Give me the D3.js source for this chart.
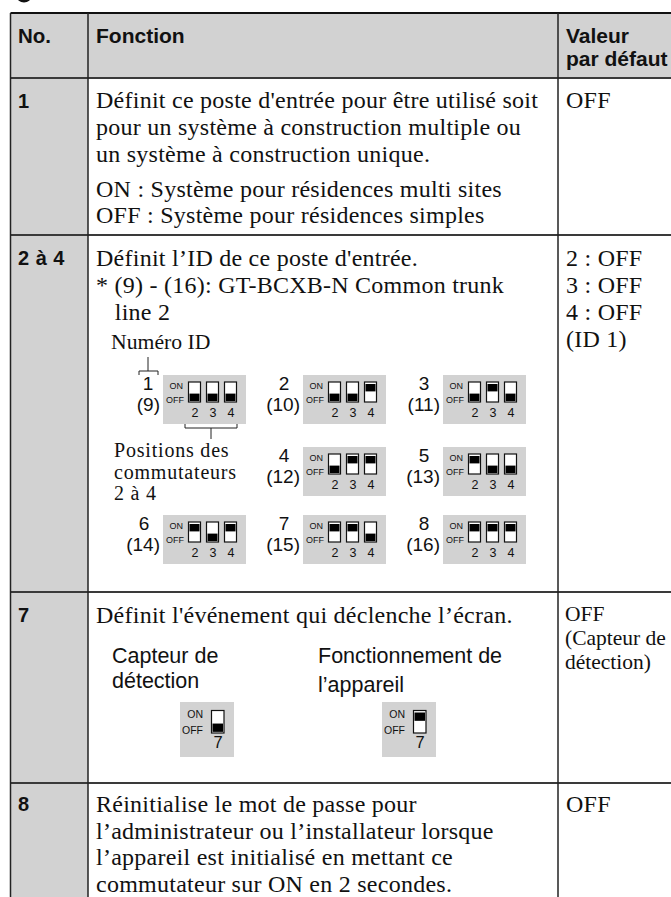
<!DOCTYPE html>
<html><head><meta charset="utf-8">
<script src="https://cdn.jsdelivr.net/npm/d3@7"></script>
<style>html,body{margin:0;padding:0;background:#fff;overflow:hidden}svg{display:block}
.serif{font-family:"Liberation Serif",serif;fill:#111}
.sans{font-family:"Liberation Sans",sans-serif;fill:#111}
.bold{font-weight:700}</style></head><body>
<script>
// ---- data ----
const headers = ["No.", "Fonction"];
const headerDefault = ["Valeur", "par défaut"];
const rowNumbers = ["1", "2 à 4", "7", "8"];
const rowDefaults = [["OFF"], ["2 : OFF", "3 : OFF", "4 : OFF", "(ID 1)"], ["OFF", "(Capteur de", "détection)"], ["OFF"]];
const rowTexts = [
 ["Définit ce poste d'entrée pour être utilisé soit", "pour un système à construction multiple ou", "un système à construction unique."],
 ["Définit l’ID de ce poste d'entrée.", "* (9) - (16): GT-BCXB-N Common trunk", "   line 2"],
 ["Définit l'événement qui déclenche l’écran."],
 ["Réinitialise le mot de passe pour", "l’administrateur ou l’installateur lorsque", "l’appareil est initialisé en mettant ce", "commutateur sur ON en 2 secondes."]
];
const onOffLines = ["ON : Système pour résidences multi sites", "OFF : Système pour résidences simples"];
const idLabels = ["1", "2", "3", "4", "5", "6", "7", "8"];
const idSecond = ["(9)", "(10)", "(11)", "(12)", "(13)", "(14)", "(15)", "(16)"];
const switchStates = [[0,0,0],[0,0,1],[0,1,0],[0,1,1],[1,0,0],[1,0,1],[1,1,0],[1,1,1]];
const switchNames = ["2", "3", "4"];
const gridCols = [0,1,2,1,2,0,1,2];
const gridRows = [0,0,0,1,1,2,2,2];
const positionLabel = ["Positions des", "commutateurs", "2 à 4"];
const sensorLabels = [["Capteur de", "détection"], ["Fonctionnement de", "l’appareil"]];
const sensorStates = [0, 1];

// ---- layout scales ----
const W = 671, H = 897;
const colX = d3.scaleOrdinal().domain([0,1,2,3]).range([10.5, 88, 558, 690]);
const rowY = d3.scaleOrdinal().domain([0,1,2,3,4,5]).range([13, 78, 235, 592, 783, 910]);
const panelX = d3.scaleOrdinal().domain([0,1,2]).range([163, 303, 443]);
const panelY = d3.scaleOrdinal().domain([0,1,2]).range([375, 447, 515]);
const gray = "#d2d2d2", ink = "#222";
const svg = d3.select("body").append("svg").attr("width", W).attr("height", H);

function lines(g, arr, x, y0, dy, cls, size, ls){
  g.selectAll(null).data(arr).join("text").attr("class", cls).attr("font-size", size)
   .attr("letter-spacing", ls||0)
   .attr("x", x).attr("y", (d,i)=>y0+i*dy).style("white-space","pre").text(d=>d);
}
// partial glyph of the cut-off heading
svg.append("ellipse").attr("cx",24).attr("cy",-4).attr("rx",6).attr("ry",5).attr("fill","none").attr("stroke","#111").attr("stroke-width",3);

// gray backgrounds
svg.append("rect").attr("x",colX(0)).attr("y",rowY(0)).attr("width",W-colX(0)).attr("height",rowY(1)-rowY(0)).attr("fill",gray);
svg.append("rect").attr("x",colX(0)).attr("y",rowY(1)).attr("width",colX(1)-colX(0)).attr("height",H-rowY(1)).attr("fill",gray);

// rule lines
const hl = [0,1,2,3,4];
svg.selectAll(".hl").data(hl).join("line").attr("x1",colX(0)).attr("x2",W).attr("y1",d=>rowY(d)).attr("y2",d=>rowY(d))
  .attr("stroke",d=>d==0?"#111":"#3a3a3a").attr("stroke-width",1.8);
svg.selectAll(".vl").data([0,1,2]).join("line").attr("x1",d=>colX(d)).attr("x2",d=>colX(d)).attr("y1",rowY(0)).attr("y2",H)
  .attr("stroke",ink).attr("stroke-width",1.5);

// header
const head = svg.append("g");
lines(head.append("g"), [headers[0]], 18, 43, 0, "sans bold", 20.5);
lines(head.append("g"), [headers[1]], 96, 43, 0, "sans bold", 21);
lines(head.append("g"), headerDefault, 566, 43, 23, "sans bold", 21);

// rows
const bodySize = 24, bodyLs = 0.25;
const numY = [108, 265, 622, 811];
rowNumbers.forEach((n,i)=> lines(svg.append("g"), [n], 18, numY[i], 0, "sans bold", 20, 0.5));
const textY = [108, 265.5, 623, 812], textDy = [26.8, 27, 0, 26.7];
rowTexts.forEach((t,i)=> lines(svg.append("g"), t, 96, textY[i], textDy[i], "serif", bodySize, bodyLs));
lines(svg.append("g"), onOffLines, 96, 197, 25.5, "serif", bodySize, bodyLs);
const defY = [108, 265.5, 621, 812], defDy = [0, 27, 0, 0];
rowDefaults.forEach((t,i)=>{
  if(i==2){
    lines(svg.append("g"), t, 565, 621, 24, "serif", 21.5);
  } else lines(svg.append("g"), t, 566, defY[i], defDy[i], "serif", bodySize, bodyLs);
});

// ID heading
lines(svg.append("g"), ["Numéro ID"], 111, 349, 0, "serif", 21.7);
const br = d3.path();
br.moveTo(139,375); br.lineTo(139,371); br.lineTo(158,371); br.lineTo(158,375);
br.moveTo(148,371); br.lineTo(148,357);
br.moveTo(185,418); br.lineTo(185,428); br.lineTo(237,428); br.lineTo(237,418);
br.moveTo(211,428); br.lineTo(211,439);
svg.append("path").attr("d",br.toString()).attr("fill","none").attr("stroke",ink).attr("stroke-width",1);
lines(svg.append("g"), positionLabel, 114, 457, 21.5, "serif", 20, 0.8);

// switch panels
function drawSwitch(g, x, y, w, h, on){
  g.append("rect").attr("x",x).attr("y",y).attr("width",w).attr("height",h).attr("fill","#fff").attr("stroke","#111").attr("stroke-width",1.2);
  g.append("rect").attr("x",x+1).attr("y",on? y+2 : y+h*0.58).attr("width",w-2).attr("height",h*0.37).attr("fill","#000");
}
const panels = svg.selectAll(".panel").data(idLabels).join("g").attr("class","panel")
  .attr("transform",(d,i)=>`translate(${panelX(gridCols[i])},${panelY(gridRows[i])})`);
panels.each(function(d,i){
  const g = d3.select(this);
  g.append("rect").attr("width",83).attr("height",49).attr("fill",gray);
  g.append("text").attr("class","sans").attr("font-size",9).attr("x",20).attr("y",14).attr("text-anchor","end").text("ON");
  g.append("text").attr("class","sans").attr("font-size",9).attr("x",21).attr("y",28).attr("text-anchor","end").text("OFF");
  switchStates[i].forEach((s,k)=>{
    drawSwitch(g, 25.5+k*18, 7, 12, 20, s==1);
    g.append("text").attr("class","sans").attr("font-size",12.5).attr("x",32+k*18).attr("y",41.5).attr("text-anchor","middle").text(switchNames[k]);
  });
  g.append("text").attr("class","sans").attr("font-size",19).attr("x",i==0?-15:-19).attr("y",15).attr("text-anchor","middle").text(d);
  g.append("text").attr("class","sans").attr("font-size",19).attr("x",-3).attr("y",36).attr("text-anchor","end").text(idSecond[i]);
});

// row 7 sensors
const sensorX = d3.scaleOrdinal().domain([0,1]).range([112, 318]);
const sensorPanelX = d3.scaleOrdinal().domain([0,1]).range([180, 382]);
sensorLabels.forEach((t,i)=>{
  lines(svg.append("g"), t, sensorX(i), 663, i==0?25:29, "sans", 21.5);
  const g = svg.append("g").attr("transform",`translate(${sensorPanelX(i)},702)`);
  g.append("rect").attr("width",54).attr("height",55).attr("fill",gray);
  g.append("text").attr("class","sans").attr("font-size",10.5).attr("x",23).attr("y",16).attr("text-anchor","end").text("ON");
  g.append("text").attr("class","sans").attr("font-size",10.5).attr("x",23).attr("y",32).attr("text-anchor","end").text("OFF");
  drawSwitch(g, 31.5, 8.5, 12.5, 22.5, sensorStates[i]==1);
  g.append("text").attr("class","sans").attr("font-size",16.5).attr("x",38).attr("y",46).attr("text-anchor","middle").text("7");
});
</script></body></html>
